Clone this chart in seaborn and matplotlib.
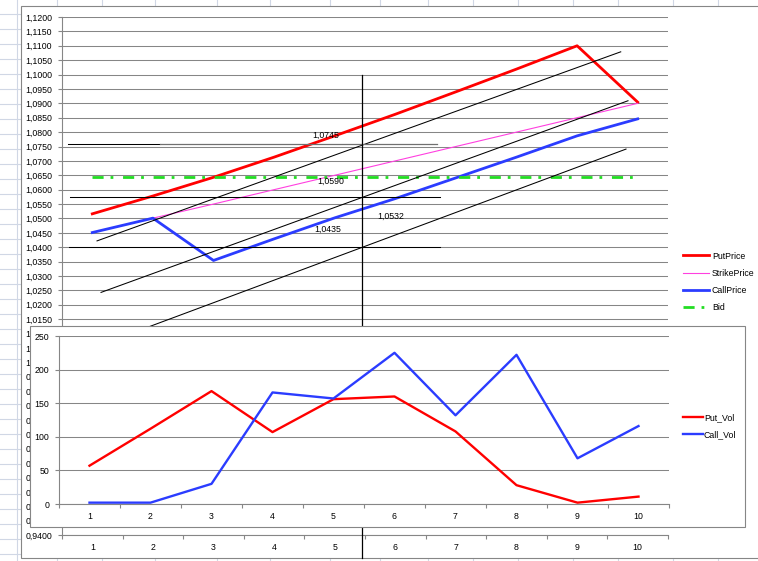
import matplotlib
matplotlib.use("Agg")
import matplotlib.pyplot as plt
import numpy as np
import pandas as pd
import seaborn as sns
from matplotlib.lines import Line2D
from matplotlib.patches import Rectangle
from matplotlib.ticker import FixedFormatter, FixedLocator, FuncFormatter, NullFormatter

periods = list(range(1, 11))
put_price = [1.0516, 1.0578, 1.0643, 1.0713, 1.0787, 1.0862, 1.0940, 1.1019, 1.1100, 1.0904]
strike_price = [1.0451, 1.0501, 1.0550, 1.0600, 1.0650, 1.0700, 1.0750, 1.0800, 1.0850, 1.0900]
call_price = [1.0451, 1.0501, 1.0354, 1.0429, 1.0502, 1.0569, 1.0641, 1.0713, 1.0787, 1.0846]
bid = [1.0645] * 10

put_vol = [57, 112, 168, 107, 156, 160, 108, 28, 2, 11]
call_vol = [2, 2, 30, 166, 157, 225, 132, 222, 68, 116]

# lines drawn by hand on top of the price chart: (x0, y0, x1, y1) in chart units
level_lines = [(0.60, 1.0757, 2.12, 1.0757), (0.63, 1.0574, 6.74, 1.0574), (0.62, 1.0400, 6.74, 1.0400)]
level_line_grey = [(2.12, 1.0757, 6.69, 1.0757)]
trend_lines = [(1.078, 1.0422, 9.72, 1.1079), (1.144, 1.0243, 9.84, 1.0909), (1.20, 1.0066, 9.807, 1.0741)]
cross_line = (5.45, 1.1000, 5.45, 0.9320)
note_labels = ["1,0745", "1,0590", "1,0532", "1,0435"]
note_x = [4.856, 4.939, 5.929, 4.889]
note_y = [1.0790, 1.0630, 1.0509, 1.0463]

W, H = 758, 561
FS = 6.3
grid_grey = "#868686"
sheet_line = "#d0d7e5"

plt.rcParams["font.family"] = ["Liberation Sans", "DejaVu Sans"]
plt.rcParams["font.size"] = FS


def fx(px):
    return px / W


def fy(py):
    return 1 - py / H


def excel_axes(ax, ymin, ymax, yticks, fmt):
    ax.set_xlim(0.5, 10.5)
    ax.set_ylim(ymin, ymax)
    ax.yaxis.set_major_locator(FixedLocator(yticks))
    ax.yaxis.set_major_formatter(FuncFormatter(fmt))
    ax.grid(axis="y", color=grid_grey, lw=0.75)
    ax.grid(axis="x", visible=False)
    ax.set_axisbelow(True)
    ax.xaxis.set_major_locator(FixedLocator(np.arange(0.5, 11, 1)))
    ax.xaxis.set_major_formatter(NullFormatter())
    ax.xaxis.set_minor_locator(FixedLocator(periods))
    ax.xaxis.set_minor_formatter(FixedFormatter([str(p) for p in periods]))
    ax.tick_params(axis="x", which="minor", length=0, pad=6, labelsize=FS)
    ax.tick_params(axis="x", which="major", length=3, color=grid_grey, direction="out")
    ax.tick_params(axis="y", length=3, color=grid_grey, pad=4, labelsize=FS)
    for s in ["top", "right"]:
        ax.spines[s].set_visible(False)
    for s in ["left", "bottom"]:
        ax.spines[s].set_color(grid_grey)
        ax.spines[s].set_linewidth(0.8)
    ax.set_xlabel("")
    ax.set_ylabel("")


fig = plt.figure(figsize=(W / 100, H / 100), dpi=100)

# spreadsheet cells around the chart
for x in [17, 57, 102, 155, 217, 270, 330, 380, 428, 473, 518, 573, 618, 673, 718]:
    fig.add_artist(Line2D([fx(x)] * 2, [0, 1], color=sheet_line, lw=0.8, zorder=-3))
for y in np.arange(14, H, 15):
    fig.add_artist(Line2D([0, 1], [fy(y)] * 2, color=sheet_line, lw=0.8, zorder=-3))
fig.add_artist(Rectangle((fx(21), fy(558)), 1.2, (558 - 6) / H, transform=fig.transFigure,
                         fc="white", ec=grid_grey, lw=0.8, zorder=-1))

# price chart
ax = fig.add_axes([fx(62), fy(535), (668 - 62) / W, (535 - 17) / H])
ax.set_facecolor("none")
price_df = pd.DataFrame({"period": periods, "PutPrice": put_price, "StrikePrice": strike_price,
                         "CallPrice": call_price, "Bid": bid})
price_styles = {
    "PutPrice": dict(color="#ff0000", linewidth=2.0, linestyle="-"),
    "StrikePrice": dict(color="#ff40e0", linewidth=0.8, linestyle="-"),
    "CallPrice": dict(color="#2b3cff", linewidth=2.0, linestyle="-"),
    "Bid": dict(color="#22dd22", linewidth=2.0, linestyle=(0, (4, 2.5, 1, 3.5))),
}
for name, st in price_styles.items():
    sns.lineplot(data=price_df, x="period", y=name, ax=ax, label=name, **st)

for x0, y0, x1, y1 in level_lines + trend_lines:
    ax.plot([x0, x1], [y0, y1], color="black", lw=0.75, zorder=5)
for x0, y0, x1, y1 in level_line_grey:
    ax.plot([x0, x1], [y0, y1], color="#707070", lw=0.9, zorder=5)
ax.plot(cross_line[::2], cross_line[1::2], color="black", lw=0.9, zorder=5, clip_on=False)
for t, x, y in zip(note_labels, note_x, note_y):
    ax.text(x, y, t, ha="center", va="center", fontsize=FS, zorder=6)

price_ticks = np.round(np.arange(0.94, 1.12 + 1e-9, 0.005), 4)
excel_axes(ax, 0.94, 1.12, price_ticks, lambda v, _: f"{v:.4f}".replace(".", ","))
ax.legend(loc="center left", bbox_to_anchor=(fx(683), fy(282)), bbox_transform=fig.transFigure,
          frameon=False, fontsize=FS, handlelength=3.0, handletextpad=0.3, labelspacing=0.95,
          borderpad=0, borderaxespad=0)

# volume chart laid over the lower part
fig.add_artist(Rectangle((fx(30), fy(527)), (745 - 30) / W, (527 - 326) / H, transform=fig.transFigure,
                         fc="white", ec=grid_grey, lw=0.8, zorder=1))
ax2 = fig.add_axes([fx(59), fy(504), (669 - 59) / W, (504 - 336) / H])
ax2.set_zorder(2)
ax2.set_facecolor("none")
vol_df = pd.DataFrame({"period": periods, "Put_Vol": put_vol, "Call_Vol": call_vol})
sns.lineplot(data=vol_df, x="period", y="Put_Vol", ax=ax2, label="Put_Vol", color="#ff0000", linewidth=1.7)
sns.lineplot(data=vol_df, x="period", y="Call_Vol", ax=ax2, label="Call_Vol", color="#2b3cff", linewidth=1.7)
excel_axes(ax2, 0, 250, [0, 50, 100, 150, 200, 250], lambda v, _: f"{v:.0f}")
ax2.legend(loc="center left", bbox_to_anchor=(fx(683), fy(426)), bbox_transform=fig.transFigure,
           frameon=False, fontsize=FS, handlelength=2.3, handletextpad=0.1, labelspacing=0.95,
           borderpad=0, borderaxespad=0)

fig.savefig("out.png", dpi=100)
plt.close(fig)
